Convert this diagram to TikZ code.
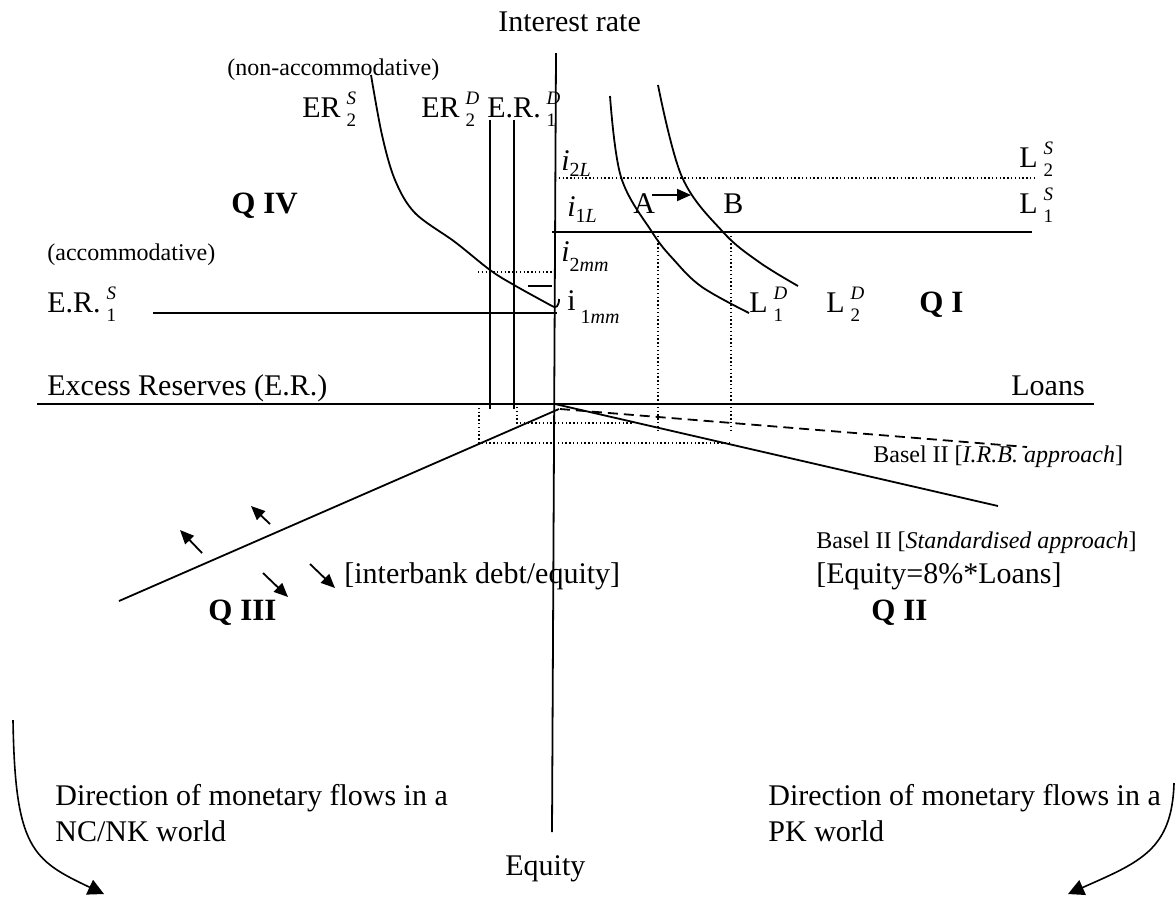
\documentclass[tikz,border=0pt]{standalone}
\usepackage{fontspec}
\setmainfont{Liberation Serif}
\usetikzlibrary{arrows.meta}
\newcommand{\supb}[2]{\kern3pt\rlap{\raisebox{0.42em}{\fontsize{9.5}{10}\selectfont\itshape #1}}\raisebox{-0.32em}{\fontsize{9.5}{10}\selectfont #2}}
\newcommand{\sbx}[2]{\raisebox{-#1em}{\fontsize{10}{10}\selectfont #2}}
\begin{document}
\begin{tikzpicture}[x=0.5pt,y=-0.5pt,
  lab/.style={anchor=base west,inner sep=0pt,font=\fontsize{15}{18}\selectfont},
  smalllab/.style={anchor=base west,inner sep=0pt,font=\fontsize{12}{14}\selectfont},
  qlab/.style={anchor=base west,inner sep=0pt,font=\fontsize{15.5}{18}\selectfont\bfseries},
  curve/.style={line width=0.9pt},
  axisline/.style={line width=0.9pt},
  dotline/.style={line width=0.7pt,dash pattern=on 0.7pt off 1.2pt},
  dashline/.style={line width=0.9pt,dash pattern=on 5pt off 3pt},
  bigtip/.style={-{Triangle[length=7pt,width=6pt]},line width=0.9pt},
  flowtip/.style={-{Triangle[length=8pt,width=8pt]},line width=0.8pt}
]
\useasboundingbox (0,0) rectangle (1176,896);

% axes
\coordinate (ytop) at (556,53);
\coordinate (ybot) at (552,832);
\coordinate (xl) at (37,404);
\coordinate (xr) at (1094,404);
\coordinate (O) at (555,404);
\draw[axisline] (ytop) -- (ybot);
\draw[axisline] (xl) -- (xr);

% axis labels
\node[lab] (ir) at (498,31) {Interest rate};
\node[lab] (exr) at (47,395) {Excess Reserves (E.R.)};
\node[lab] (loans) at (1011,395) {Loans};
\node[lab] (eq) at (505,875) {Equity};

% Quadrant IV
\node[smalllab] (nonacc) at (227,75) {(non-accommodative)};
\node[lab] (er2s) at (302,117) {ER\supb{S}{2}};
\node[lab] (er2d) at (421,117) {ER\supb{D}{2}};
\node[lab] (er1d) at (487,117) {E.R.\supb{D}{1}};
\node[qlab] (q4) at (231,213) {Q IV};
\node[smalllab] (acc) at (47,260) {(accommodative)};
\node[lab] (er1s) at (47,312) {E.R.\supb{S}{1}};

\draw[curve] plot[smooth,tension=0.55] coordinates {(371,75) (382,135) (395,180) (415,213) (455,242) (490,270) (514,285) (552,306)};
\draw[curve] (552,306) .. controls (556,309) and (559,306) .. (559,299);
\draw[curve] (528,286) -- (552,286);
\draw[dotline] (478,272) -- (555,272);
\draw[curve] (153,313) -- (557,313);
\draw[curve] (490,120) -- (490,409);
\draw[curve] (514,120) -- (514,409);

% interest-rate labels
\node[lab] (i2l) at (561,170) {\textit{i}\sbx{0.22}{2\textit{L}}};
\node[lab] (i1l) at (567,216) {\textit{i}\sbx{0.22}{1\textit{L}}};
\node[lab] (i2mm) at (561,261) {\textit{i}\sbx{0.35}{2\textit{mm}}};
\node[lab] (i1mm) at (567,310) {i\,\sbx{0.45}{1\textit{mm}}};

% Quadrant I
\draw[curve] (552,232) -- (1032,232);
\draw[dotline] (555,178) -- (1034,178);
\draw[curve] plot[smooth,tension=0.6] coordinates {(610,96) (621,177) (652,232) (674,260) (702,287) (749,313)};
\draw[curve] plot[smooth,tension=0.6] coordinates {(658,85) (682,177) (723,232) (759,262) (798,286)};
\coordinate (ab1) at (652,195);
\coordinate (ab2) at (691,195);
\draw[bigtip] (ab1) -- (ab2);
\node[lab] (A) at (633,213) {A};
\node[lab] (B) at (723,213) {B};
\node[lab] (l2s) at (1019,167) {L\supb{S}{2}};
\node[lab] (l1s) at (1019,213) {L\supb{S}{1}};
\node[lab] (l1d) at (749,312) {L\supb{D}{1}};
\node[lab] (l2d) at (826,312) {L\supb{D}{2}};
\node[qlab] (q1) at (919,312) {Q I};
\draw[dotline] (658,232) -- (658,433);
\draw[dotline] (731,232) -- (731,433);

% dotted projections below axis
\draw[dotline] (479,404) -- (479,443) -- (729,443);
\draw[dotline] (517,407) -- (517,423) -- (633,423);

% Quadrant III / II lines
\draw[curve] (119,601) -- (559,409);
\draw[curve] (O) -- (998,506);
\draw[dashline] (560,409) -- (1027,447);

% small arrows in Q III
\draw[bigtip] (202,553) -- (180,530);
\draw[bigtip] (270,524) -- (251,506);
\draw[bigtip] (263,573) -- (288,597);
\draw[bigtip] (310,564) -- (335,588);

\node[lab] (ibd) at (344,583) {[interbank debt/equity]};
\node[qlab] (q3) at (208,620) {Q III};
\node[smalllab] (irb) at (873,462) {Basel II [\textit{I.R.B. approach}]};
\node[smalllab] (std) at (816,548) {Basel II [\textit{Standardised approach}]};
\node[lab] (eqrule) at (816,583) {[Equity=8\%*Loans]};
\node[qlab] (q2) at (871,620) {Q II};

% bottom texts and flow arrows
\node[lab,align=left,anchor=north west] (ncnk) at (55,784) {Direction of monetary flows in a\\NC/NK world};
\node[lab,align=left,anchor=north west] (pk) at (768,784) {Direction of monetary flows in a\\PK world};
\coordinate (fl1) at (13,720);
\coordinate (fl2) at (104,894);
\coordinate (fr1) at (1174,783);
\coordinate (fr2) at (1068,894);
\draw[flowtip] (fl1) .. controls (15,848) and (32,860) .. (fl2);
\draw[flowtip] (fr1) .. controls (1172,850) and (1140,862) .. (fr2);
\end{tikzpicture}
\end{document}
